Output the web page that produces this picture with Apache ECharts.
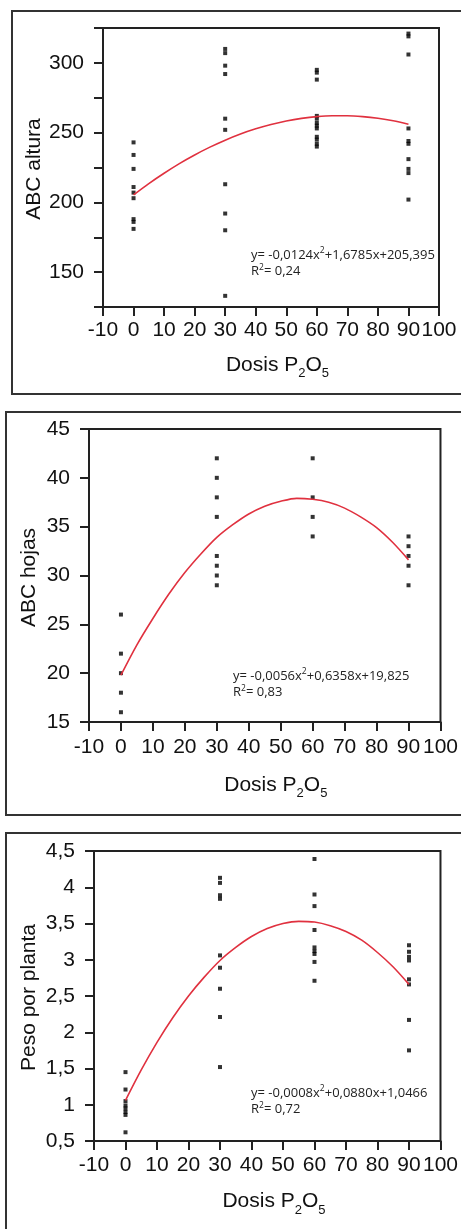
<!DOCTYPE html>
<html>
<head>
<meta charset="utf-8">
<script src="https://cdn.jsdelivr.net/npm/echarts@6/dist/echarts.min.js"></script>
<style>
  html, body { margin: 0; padding: 0; background: #fff; }
  #chart { width: 461px; height: 1229px; }
</style>
</head>
<body>
<div id="chart"></div>
<script>
// ---- data ----
const doses = [0, 30, 60, 90];

const alturaD0  = [243, 234, 224, 211, 207, 203, 188, 186, 181];
const alturaD30 = [310, 307, 298, 292, 260, 252, 213, 192, 180, 133];
const alturaD60 = [295, 293, 288, 262, 260, 257, 255, 253, 247, 245, 242, 240];
const alturaD90 = [321, 319, 306, 253, 244, 242, 231, 224, 221, 202];

const hojasD0  = [26, 22, 20, 18, 16];
const hojasD30 = [42, 40, 38, 36, 32, 31, 30, 29];
const hojasD60 = [42, 38, 36, 34];
const hojasD90 = [34, 33, 32, 31, 29];

const pesoD0  = [1.45, 1.21, 1.05, 0.99, 0.95, 0.90, 0.86, 0.62];
const pesoD30 = [4.13, 4.06, 3.89, 3.84, 3.06, 2.89, 2.60, 2.21, 1.52];
const pesoD60 = [4.39, 3.90, 3.74, 3.41, 3.17, 3.12, 3.08, 2.97, 2.71];
const pesoD90 = [3.20, 3.11, 3.04, 2.99, 2.73, 2.66, 2.17, 1.75];

// fitted curves, every 5 units of dose
const curveX      = [0, 5, 10, 15, 20, 25, 30, 35, 40, 45, 50, 55, 60, 65, 70, 75, 80, 85, 90];
const alturaCurve = [205.4, 213.5, 220.9, 227.8, 234.0, 239.6, 244.6, 249.0, 252.7, 255.8, 258.3, 260.2, 261.5, 262.1, 262.1, 261.5, 260.3, 258.5, 256.0];
const hojasCurve  = [19.8, 22.9, 25.6, 28.1, 30.3, 32.2, 33.9, 35.2, 36.3, 37.1, 37.6, 37.9, 37.8, 37.5, 36.9, 36.0, 34.9, 33.4, 31.6];
const pesoCurve   = [1.06, 1.48, 1.86, 2.20, 2.50, 2.76, 2.99, 3.17, 3.32, 3.43, 3.50, 3.53, 3.52, 3.47, 3.39, 3.27, 3.10, 2.90, 2.66];

const xMin = -10, xMax = 100, xStep = 10;
const yAltura = { min: 125, max: 325, step: 25 };
const yHojas  = { min: 15, max: 45, step: 5 };
const yPeso   = { min: 0.5, max: 4.5, step: 0.5 };

const eqAltura = ['y= -0,0124x', '+1,6785x+205,395', 'R', '= 0,24'];
const eqHojas  = ['y= -0,0056x', '+0,6358x+19,825', 'R', '= 0,83'];
const eqPeso   = ['y= -0,0008x', '+0,0880x+1,0466', 'R', '= 0,72'];

const yTitles = ['ABC altura', 'ABC hojas', 'Peso por planta'];

// ---- build ----
function pts(groups) {
  const out = [];
  groups.forEach((g, i) => g.forEach(v => out.push([doses[i], v])));
  return out;
}
function curve(vals) { return curveX.map((x, i) => [x, vals[i]]); }

const grids = [
  { left: 103, top: 28, width: 336, height: 279 },
  { left: 89, top: 429, width: 354, height: 293 },
  { left: 94, top: 851, width: 349, height: 290 }
];
const axisFont = { fontFamily: 'Liberation Sans, Arial', fontSize: 21, color: '#111' };
const lineCol = '#222';

function xAxis(i, margin) {
  return {
    type: 'value', gridIndex: i, min: xMin, max: xMax, interval: xStep,
    axisLine: { show: true, onZero: false, lineStyle: { color: lineCol, width: 2 } },
    axisTick: { show: true, inside: false, length: 9, lineStyle: { color: lineCol, width: 2 } },
    axisLabel: Object.assign({ margin: margin, showMinLabel: true, showMaxLabel: true, hideOverlap: false }, axisFont),
    splitLine: { show: false }
  };
}
function yAxis(i, r, fmt) {
  return {
    type: 'value', gridIndex: i, min: r.min, max: r.max, interval: r.step,
    axisLine: { show: true, onZero: false, lineStyle: { color: lineCol, width: 2 } },
    axisTick: { show: true, inside: false, length: 9, lineStyle: { color: lineCol, width: 2 } },
    axisLabel: Object.assign({ margin: 19, formatter: fmt, showMinLabel: true, showMaxLabel: true }, axisFont),
    splitLine: { show: false }
  };
}

const scatterStyle = { symbol: 'rect', symbolSize: 4, itemStyle: { color: '#000' } };
const curveStyle = { smooth: 0.3, showSymbol: false, symbol: 'none', lineStyle: { color: '#e0313f', width: 1.6 } };

const series = [
  Object.assign({ type: 'scatter', xAxisIndex: 0, yAxisIndex: 0, data: pts([alturaD0, alturaD30, alturaD60, alturaD90]) }, scatterStyle),
  Object.assign({ type: 'line', xAxisIndex: 0, yAxisIndex: 0, data: curve(alturaCurve) }, curveStyle),
  Object.assign({ type: 'scatter', xAxisIndex: 1, yAxisIndex: 1, data: pts([hojasD0, hojasD30, hojasD60, hojasD90]) }, scatterStyle),
  Object.assign({ type: 'line', xAxisIndex: 1, yAxisIndex: 1, data: curve(hojasCurve) }, curveStyle),
  Object.assign({ type: 'scatter', xAxisIndex: 2, yAxisIndex: 2, data: pts([pesoD0, pesoD30, pesoD60, pesoD90]) }, scatterStyle),
  Object.assign({ type: 'line', xAxisIndex: 2, yAxisIndex: 2, data: curve(pesoCurve) }, curveStyle)
];

const eqRich = {
  a: { fontFamily: 'Open Sans', fontSize: 13, lineHeight: 16.7, fill: '#222' },
  s: { fontFamily: 'Open Sans', fontSize: 8.5, lineHeight: 8, fill: '#222', verticalAlign: 'top' }
};
function eqText(eq, x, y) {
  return {
    type: 'text', x: x, y: y, z: 10,
    style: {
      text: '{a|' + eq[0] + '}{s|2}{a|' + eq[1] + '}\n{a|' + eq[2] + '}{s|2}{a|' + eq[3] + '}',
      rich: eqRich, align: 'left', verticalAlign: 'top'
    }
  };
}
const titleRich = {
  t: { fontFamily: 'Liberation Sans, Arial', fontSize: 21, lineHeight: 30, fill: '#111' },
  b: { fontFamily: 'Liberation Sans, Arial', fontSize: 13, lineHeight: 12, fill: '#111', verticalAlign: 'bottom' }
};
function xTitle(x, y) {
  return {
    type: 'text', x: x, y: y, z: 10,
    style: { text: '{t|Dosis P}{b|2}{t|O}{b|5}', rich: titleRich, align: 'center', verticalAlign: 'middle' }
  };
}
function yTitle(txt, x, y) {
  return {
    type: 'text', x: x, y: y, rotation: Math.PI / 2, z: 10,
    style: { text: txt, fontFamily: 'Liberation Sans, Arial', fontSize: 21, fill: '#111', align: 'center', verticalAlign: 'middle' }
  };
}
function box(x, y, w, h) {
  return { type: 'rect', shape: { x: x, y: y, width: w, height: h }, style: { fill: 'none', stroke: '#333', lineWidth: 2 }, z: 0 };
}

const option = {
  backgroundColor: '#fff',
  animation: false,
  grid: grids.map(g => Object.assign({ show: true, borderColor: lineCol, borderWidth: 2, backgroundColor: 'transparent' }, g)),
  xAxis: [xAxis(0, 13), xAxis(1, 15), xAxis(2, 14)],
  yAxis: [
    yAxis(0, yAltura, v => (v % 50 === 0 && v > 125 && v < 325) ? String(v) : ''),
    yAxis(1, yHojas, v => String(v)),
    yAxis(2, yPeso, v => String(v).replace('.', ','))
  ],
  series: series,
  graphic: [
    box(12, 11, 470, 383),
    box(6, 412, 470, 403),
    box(6, 833, 470, 430),
    eqText(eqAltura, 251, 246.5),
    eqText(eqHojas, 233, 667.5),
    eqText(eqPeso, 251, 1084.5),
    xTitle(277.5, 365),
    xTitle(275.8, 785),
    xTitle(274, 1201.5),
    yTitle(yTitles[0], 34, 169),
    yTitle(yTitles[1], 29, 577.5),
    yTitle(yTitles[2], 29, 997.5)
  ]
};

const chart = echarts.init(document.getElementById('chart'), null, { renderer: 'canvas' });
chart.setOption(option);
</script>
</body>
</html>
